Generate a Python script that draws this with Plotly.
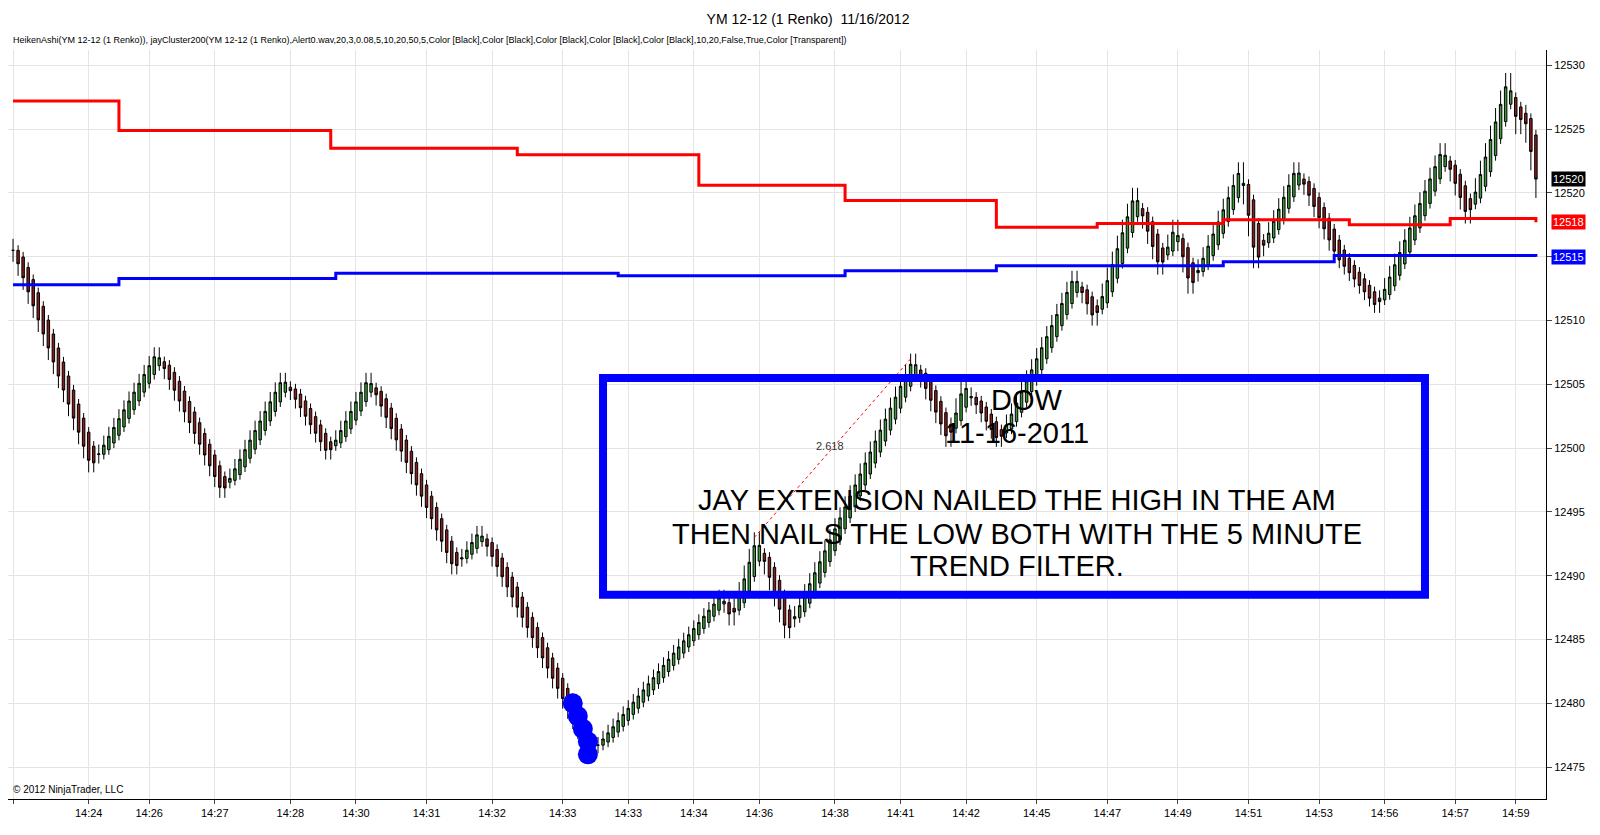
import numpy as np
import plotly.graph_objects as go

# renko swing points (bar index, price)
pivot_bars = [0, 15, 28, 41, 53, 62, 70, 87, 92, 114, 140, 142, 147, 153, 178, 185, 188, 195,
              210, 214, 222, 227, 230, 233, 243, 246, 254, 262, 270, 283, 288, 296, 298, 299, 302]
pivot_prices = [12515, 12498.5, 12507.5, 12496.5, 12505.5, 12499.5, 12505.5, 12490.5, 12493.5,
                12476, 12488.5, 12486.5, 12493, 12485.5, 12507, 12500.5, 12505, 12500.5,
                12513.5, 12510, 12520, 12514, 12517.5, 12512.5, 12522, 12514.5, 12522, 12515,
                12511, 12523.5, 12518, 12529, 12525, 12526.5, 12520]

# jayCluster upper (red) and lower (blue) levels: (bar index, value)
red_bars = [0, 21, 63, 100, 136, 165, 195, 215, 240, 265, 285, 302]
red_vals = [12527.2, 12524.9, 12523.5, 12523.0, 12520.6, 12519.4, 12517.3, 12517.6, 12517.9, 12517.5, 12518.0, 12517.7]
blue_bars = [0, 21, 64, 120, 165, 195, 240, 262, 302]
blue_vals = [12512.8, 12513.3, 12513.7, 12513.5, 12513.9, 12514.3, 12514.6, 12515.1, 12515.0]

time_bars = [0, 15, 27, 40, 55, 68, 82, 95, 109, 122, 135, 148, 163, 176, 189, 203, 217, 231, 245, 259, 272, 286, 298]
time_labels = ["14:23", "14:24", "14:26", "14:27", "14:28", "14:30", "14:31", "14:32", "14:33", "14:33",
               "14:34", "14:36", "14:38", "14:41", "14:42", "14:45", "14:47", "14:49", "14:51", "14:53",
               "14:56", "14:57", "14:59"]

dot_bars = [111, 112, 113, 114, 114]
dot_prices = [12480, 12479, 12478, 12477, 12476]

# build renko closes between swing points
closes = [pivot_prices[0]]
for i in range(1, len(pivot_bars)):
    n = pivot_bars[i] - pivot_bars[i - 1]
    seg = np.linspace(pivot_prices[i - 1], pivot_prices[i], n + 1)[1:]
    closes.extend(list(seg))
closes = np.array(closes)
opens = np.concatenate([[closes[0] + 1], closes[:-1]])
highs = np.maximum(opens, closes)
lows = np.minimum(opens, closes)

# heiken ashi
ha_c = (opens + highs + lows + closes) / 4
ha_o = np.zeros_like(ha_c)
ha_o[0] = (opens[0] + closes[0]) / 2
for i in range(1, len(ha_c)):
    ha_o[i] = (ha_o[i - 1] + ha_c[i - 1]) / 2
ha_h = np.maximum.reduce([highs, ha_o, ha_c]) + 0.4
ha_l = np.minimum.reduce([lows, ha_o, ha_c]) - 0.4
x = np.arange(len(closes))

fig = go.Figure()
fig.add_trace(go.Scatter(x=red_bars, y=red_vals, mode='lines', line=dict(color='#ff0000', width=3, shape='hv'),
                         hoverinfo='skip'))
fig.add_trace(go.Scatter(x=blue_bars, y=blue_vals, mode='lines', line=dict(color='#0000ff', width=3, shape='hv'),
                         hoverinfo='skip'))
fig.add_trace(go.Candlestick(x=x, open=ha_o, high=ha_h, low=ha_l, close=ha_c,
                             increasing=dict(line=dict(color='black', width=1), fillcolor='#3a9a3a'),
                             decreasing=dict(line=dict(color='black', width=1), fillcolor='#8b1c1c'),
                             whiskerwidth=0))
fig.add_trace(go.Scatter(x=dot_bars, y=dot_prices, mode='markers',
                         marker=dict(color='#0000ff', size=20), hoverinfo='skip'))
# fib extension line
fig.add_trace(go.Scatter(x=[147, 178], y=[12493, 12507], mode='lines',
                         line=dict(color='#ff0000', width=1, dash='dot'), hoverinfo='skip'))

# trend filter box
fig.add_shape(type='rect', x0=117, x1=280, y0=12488.5, y1=12505.5, line=dict(color='#0000ff', width=8))

fig.add_annotation(x=162, y=12500.2, text="2.618", showarrow=False, font=dict(size=11, color='#333'))
for t, xx, yy in [("DOW", 201, 12503.8), ("11-16-2011", 199, 12501.2),
                  ("JAY EXTENSION NAILED THE HIGH IN THE AM", 199, 12495.9),
                  ("THEN NAILS THE LOW BOTH WITH THE 5 MINUTE", 199, 12493.3),
                  ("TREND FILTER.", 199, 12490.8)]:
    fig.add_annotation(x=xx, y=yy, text=t, showarrow=False,
                       font=dict(size=29, color='black', family='Liberation Sans'))

# last value tags on price axis
for val, col, txt in [(ha_c[-1], 'black', '12520'), (red_vals[-1], '#ff0000', '12518'), (blue_vals[-1], '#0000ff', '12515')]:
    fig.add_annotation(xref='paper', x=1.003, xanchor='left', y=val, text=txt, showarrow=False,
                       bgcolor=col, font=dict(color='white', size=11, family='Liberation Sans'), borderpad=1)

fig.add_annotation(xref='paper', yref='paper', x=0.002, y=1.004, xanchor='left', yanchor='bottom', showarrow=False,
                   text="HeikenAshi(YM 12-12 (1 Renko)), jayCluster200(YM 12-12 (1 Renko),Alert0.wav,20,3,0.08,5,10,20,50,5,Color [Black],Color [Black],Color [Black],Color [Black],Color [Black],10,20,False,True,Color [Transparent])",
                   font=dict(size=9, color='black', family='Liberation Sans'))
fig.add_annotation(xref='paper', yref='paper', x=0.002, y=0.003, xanchor='left', yanchor='bottom', showarrow=False,
                   text="© 2012 NinjaTrader, LLC", font=dict(size=10, color='black', family='Liberation Sans'))

fig.update_layout(
    width=1600, height=835, showlegend=False,
    paper_bgcolor='white', plot_bgcolor='white',
    margin=dict(l=0, r=62, t=42, b=44),
    title=dict(text="YM 12-12 (1 Renko)  11/16/2012", x=0.5, y=0.992, yanchor='top',
               font=dict(size=14, color='black', family='Liberation Sans')),
    font=dict(family='Liberation Sans', color='black'),
)
fig.update_xaxes(range=[-1, 304], tickvals=time_bars, ticktext=time_labels, showgrid=True, gridcolor='#e4e4e4',
                 rangeslider=dict(visible=False), ticks='outside', ticklen=4, tickfont=dict(size=11),
                 showline=True, linecolor='black', zeroline=False)
fig.update_yaxes(side='right', range=[12472.5, 12531.2], dtick=5, tickformat='d', showgrid=True, gridcolor='#e4e4e4',
                 ticks='outside', ticklen=5, tickfont=dict(size=11), showline=True, linecolor='black', zeroline=False)

fig.write_html("out.html")
